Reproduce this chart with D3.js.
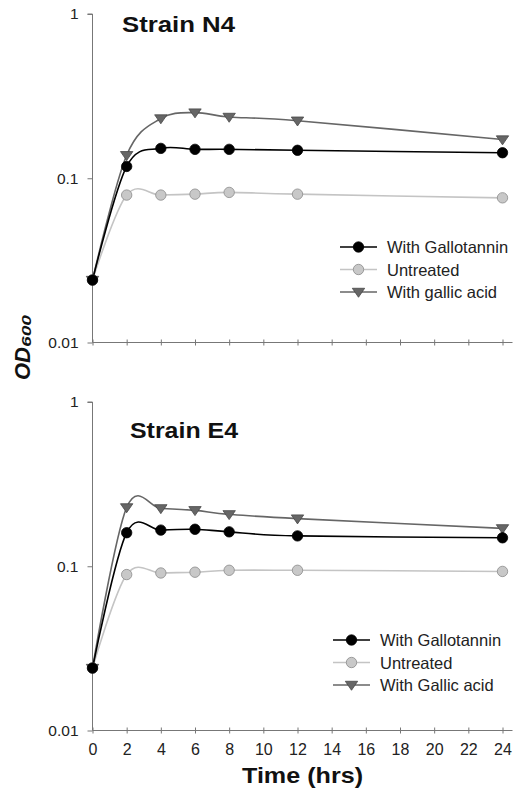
<!DOCTYPE html>
<html>
<head>
<meta charset="utf-8">
<script src="https://cdn.jsdelivr.net/npm/d3@7"></script>
<style>
  body { margin: 0; background: #fff; }
  text { font-family: Arial, "Liberation Sans", sans-serif; }
</style>
</head>
<body>
<svg id="chart" width="517" height="797"></svg>
<script>
// sampling times (hrs)
const hours = [0, 2, 4, 6, 8, 12, 24];
const xTicks = [0, 2, 4, 6, 8, 10, 12, 14, 16, 18, 20, 22, 24];
const yTicks = [0.01, 0.1, 1];

// Strain N4 OD600
const n4Gallotannin = [0.024, 0.118, 0.152, 0.150, 0.150, 0.148, 0.143];
const n4Untreated   = [0.024, 0.079, 0.079, 0.080, 0.082, 0.080, 0.076];
const n4GallicAcid  = [0.024, 0.138, 0.231, 0.251, 0.236, 0.224, 0.172];

// Strain E4 OD600
const e4Gallotannin = [0.024, 0.160, 0.166, 0.168, 0.162, 0.153, 0.149];
const e4Untreated   = [0.024, 0.089, 0.091, 0.092, 0.0945, 0.0945, 0.093];
const e4GallicAcid  = [0.024, 0.228, 0.225, 0.219, 0.207, 0.195, 0.170];

const panels = [
  { title: 'Strain N4', top: 14, legendNames: ['With Gallotannin', 'Untreated', 'With gallic acid'],
    series: [n4Untreated, n4GallicAcid, n4Gallotannin], showXLabels: false,
    titleX: 122, titleY: 32, titleW: 113, legend: { x: 340, y: 247 } },
  { title: 'Strain E4', top: 402, legendNames: ['With Gallotannin', 'Untreated', 'With Gallic acid'],
    series: [e4Untreated, e4GallicAcid, e4Gallotannin], showXLabels: true,
    titleX: 130, titleY: 438, titleW: 108, legend: { x: 333, y: 640 } }
];

// styles: untreated, gallic acid, gallotannin (draw order)
const styles = [
  { line: '#c4c4c4', fill: '#c8c8c8', stroke: '#8a8a8a', shape: 'circle' },
  { line: '#666', fill: '#666', stroke: '#484848', shape: 'triangle' },
  { line: '#000', fill: '#000', stroke: '#000', shape: 'circle' }
];
const legendOrder = [2, 0, 1];

const svg = d3.select('#chart');
const left = 92.5, right = 502.5, plotH = 328.5;
const axisColor = '#777';

const x = d3.scaleLinear().domain([0, 24]).range([left, right]);

function drawMarker(g, style, cx, cy) {
  if (style.shape === 'circle') {
    g.append('circle').attr('cx', cx).attr('cy', cy).attr('r', 5.2)
      .attr('fill', style.fill).attr('stroke', style.stroke).attr('stroke-width', 0.8);
  } else {
    const s = 6.2;
    g.append('path')
      .attr('d', `M${cx - s},${cy - s * 0.6}L${cx + s},${cy - s * 0.6}L${cx},${cy + s * 0.85}Z`)
      .attr('fill', style.fill).attr('stroke', style.stroke).attr('stroke-width', 0.8);
  }
}

panels.forEach(p => {
  const y = d3.scaleLog().domain([0.01, 1]).range([p.top + plotH, p.top]);
  const g = svg.append('g');

  // y axis
  const yAxis = d3.axisLeft(y).tickValues(yTicks).tickFormat(d => d).tickSize(5).tickPadding(9);
  const ya = g.append('g').attr('transform', `translate(${left},0)`).call(yAxis);
  ya.select('.domain').attr('stroke', axisColor).attr('d', `M-5,${p.top}H0V${p.top + plotH}`);
  ya.selectAll('.tick line').attr('stroke', axisColor);
  ya.selectAll('.tick text').attr('font-size', 15.5).attr('fill', '#222')
    .attr('font-family', 'Arial, "Liberation Sans", sans-serif');

  // x axis
  const xAxis = d3.axisBottom(x).tickValues(xTicks).tickSize(3).tickPadding(10)
    .tickFormat(p.showXLabels ? d => d : () => '');
  const xa = g.append('g').attr('transform', `translate(0,${p.top + plotH})`).call(xAxis);
  xa.select('.domain').attr('stroke', axisColor).attr('d', `M${left},0H${right + 10}`);
  xa.selectAll('.tick line').attr('stroke', axisColor).attr('y1', -3).attr('y2', 3);
  xa.selectAll('.tick text').attr('font-size', 16).attr('fill', '#222')
    .attr('font-family', 'Arial, "Liberation Sans", sans-serif');

  // title
  g.append('text').attr('x', p.titleX).attr('y', p.titleY)
    .attr('font-size', 22).attr('font-weight', 'bold').attr('fill', '#111')
    .attr('textLength', p.titleW).attr('lengthAdjust', 'spacingAndGlyphs')
    .text(p.title);

  // series
  const line = d3.line()
    .x((d, i) => x(hours[i]))
    .y(d => y(d))
    .curve(d3.curveCatmullRom.alpha(0));

  p.series.forEach((vals, si) => {
    const st = styles[si];
    g.append('path').datum(vals).attr('d', line)
      .attr('fill', 'none').attr('stroke', st.line).attr('stroke-width', 1.6);
  });
  p.series.forEach((vals, si) => {
    const st = styles[si];
    vals.forEach((v, i) => drawMarker(g, st, x(hours[i]), y(v)));
  });

  // legend
  legendOrder.forEach((si, k) => {
    const st = styles[si];
    const ly = p.legend.y + k * 22.5;
    const lg = g.append('g');
    lg.append('line').attr('x1', p.legend.x).attr('x2', p.legend.x + 37)
      .attr('y1', ly).attr('y2', ly).attr('stroke', st.line).attr('stroke-width', 1.6);
    drawMarker(lg, st, p.legend.x + 18.5, ly);
    lg.append('text').attr('x', p.legend.x + 47).attr('y', ly + 6)
      .attr('font-size', 16.5).attr('fill', '#222')
      .text(p.legendNames[k]);
  });
});

// axis titles
svg.append('text')
  .attr('x', 242).attr('y', 783)
  .attr('font-size', 22).attr('font-weight', 'bold').attr('fill', '#111')
  .attr('textLength', 121).attr('lengthAdjust', 'spacingAndGlyphs')
  .text('Time (hrs)');

const yl = svg.append('text')
  .attr('transform', 'translate(30,380) rotate(-90)')
  .attr('font-weight', 'bold').attr('font-style', 'italic').attr('fill', '#111');
yl.append('tspan').attr('font-size', 22).text('OD');
yl.append('tspan').attr('font-size', 13).attr('dy', 1)
  .attr('textLength', 32).attr('lengthAdjust', 'spacingAndGlyphs').text('600');
</script>
</body>
</html>
